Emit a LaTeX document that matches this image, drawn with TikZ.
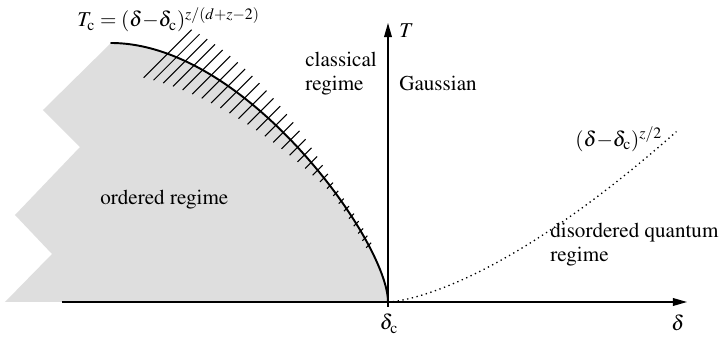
\documentclass[tikz,border=0pt]{standalone}
\usepackage[T1]{fontenc}
\usepackage{mathptmx}
\usetikzlibrary{arrows.meta}
\tikzset{
  paxis/.style  ={line width=0.7pt, -{Triangle[length=8pt, width=4.4pt]}},
  pcrit/.style  ={line width=1.1pt, line cap=round},
  phatch/.style ={line width=0.6pt},
  pcross/.style ={line width=0.75pt, dotted},
  pregion/.style={fill=black!13},
  plabel/.style ={font=\fontsize{12}{13.4}\selectfont, inner sep=0pt},
}

\begin{document}
\begin{tikzpicture}
\useasboundingbox (-7.76,-0.8) rectangle (6.64,6.04);
\coordinate (dc) at (0,0);
\coordinate (top) at (-5.54,5.18);
\coordinate (xstart) at (-6.52,0);
\coordinate (xend) at (5.98,0);
\coordinate (ybot) at (0,-0.1);
\coordinate (ytop) at (0,5.58);
% ordered region with torn left edge
\fill[pregion] (top) -- (-6.9,3.84) -- (-6.16,3.1) -- (-7.46,1.74)
  -- (-6.72,0.96) -- (-7.66,0) -- (dc)
  .. controls (0,1.2) and (-2.84,5.18) .. (top) -- cycle;
% hatching along the critical line
\foreach \i in {0,...,29}{
  \pgfmathsetmacro{\t}{0.14+0.022*\i}
  \pgfmathsetmacro{\d}{max(0.05,0.48-0.02*\i)}
  \path (top) .. controls (-2.84,5.18) and (0,1.2) .. (dc) coordinate[pos=\t] (h\i);
  \draw[phatch] (h\i) ++(-\d,-\d) -- ++({2*\d},{2*\d});
}
\draw[pcrit] (top) .. controls (-2.84,5.18) and (0,1.2) .. (dc);
% crossover line
\draw[pcross] plot[domain=0:5.77, samples=60] (\x, {0.246*\x^1.5});
\draw[paxis] (xstart) -- (xend);
\draw[paxis] (ybot) -- (ytop);
% labels
\node[plabel, anchor=base west] (lblTc) at (-6.22,5.5)
  {$T_{\mathrm{c}}=(\delta{-}\delta_{\mathrm{c}})^{z/(d+z-2)}$};
\node[plabel, anchor=base west] (lblT) at (0.22,5.28) {$T$};
\node[plabel, anchor=base] (lblDelta) at (5.8,-0.58) {$\delta$};
\node[plabel, anchor=base] (lblDc) at (0.02,-0.56) {$\delta_{\mathrm{c}}$};
\node[plabel, anchor=base west, align=left] (lblClassical) at (-1.66,4.23)
  {classical\\regime};
\node[plabel, anchor=base west] (lblGauss) at (0.22,4.23) {Gaussian};
\node[plabel, anchor=base west] (lblCross) at (3.74,3.11)
  {$(\delta{-}\delta_{\mathrm{c}})^{z/2}$};
\node[plabel, anchor=base west] (lblOrdered) at (-5.76,1.94) {ordered regime};
\node[plabel, anchor=base west, align=left] (lblQuantum) at (3.24,0.81)
  {disordered quantum\\regime};
\end{tikzpicture}
\end{document}
